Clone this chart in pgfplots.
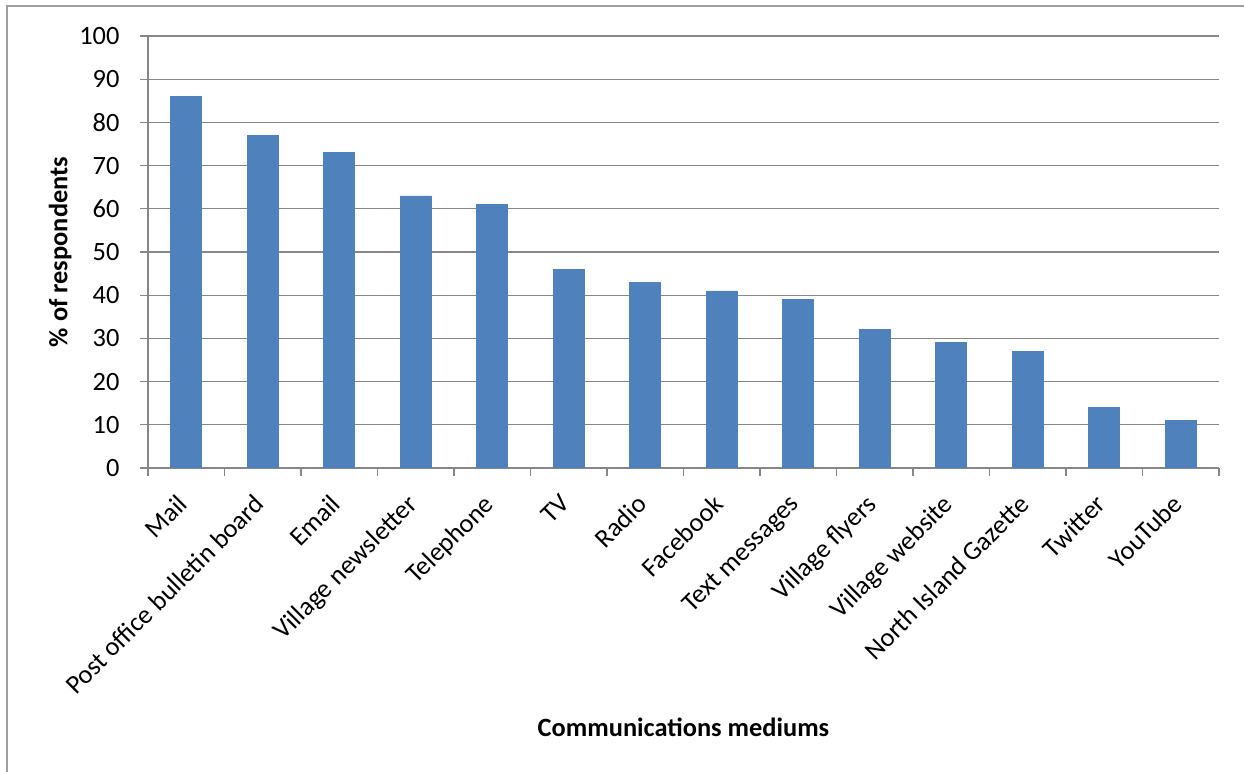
\documentclass[border=0pt]{standalone}
\usepackage{fontspec}
\setmainfont{Carlito}
\usepackage{pgfplots}
\pgfplotsset{compat=1.18}
\definecolor{barblue}{HTML}{4F81BD}
\definecolor{gridgray}{HTML}{868686}
\begin{document}
\begin{tikzpicture}[x=1bp,y=1bp]
\path[use as bounding box] (0,0) rectangle (1244,772);
\draw[gridgray!80, line width=1.2bp] (7,-20) -- (7,766) -- (1270,766);
\begin{axis}[
  at={(148bp,304bp)}, anchor=south west,
  scale only axis, width=1071bp, height=432bp,
  ybar, bar width=0.405,
  xmin=-0.5, xmax=13.5, ymin=0, ymax=100,
  ytick={0,10,...,100},
  xtick={0,...,13},
  xticklabels={Mail,Post office bulletin board,Email,Village newsletter,Telephone,TV,Radio,Facebook,Text messages,Village flyers,Village website,North Island Gazette,Twitter,YouTube},
  axis lines*=left,
  axis line style={gridgray, line width=1.2bp},
  ymajorgrids, grid style={gridgray, line width=1.2bp},
  tick align=outside,
  x tick style={draw=none},
  y tick style={gridgray, line width=1.2bp},
  major tick length=8bp,
  extra x ticks={-0.5,0.5,...,13.5},
  extra x tick labels={},
  extra x tick style={grid=none, x tick style={draw=gridgray, line width=1.2bp}, major tick length=8bp},
  /pgf/number format/assume math mode=true,
  tick label style={font=\fontsize{26.5}{30}\selectfont},
  yticklabel style={xshift=-17bp},
  xticklabel style={xshift=-10bp, yshift=-14bp, rotate=45, anchor=north east, inner sep=2bp},
  ylabel={\textbf{\% of respondents}},
  xlabel={\textbf{Communications mediums}},
  label style={font=\fontsize{26.5}{30}\selectfont},
  ylabel style={at={(axis description cs:-0.082,0.5)}, anchor=center},
  xlabel style={at={(axis description cs:0.5,-0.6)}, anchor=center},
  enlarge x limits=false,
]
\addplot[fill=barblue, draw=barblue, line width=0.6bp] coordinates {
(0,86) (1,77) (2,73) (3,63) (4,61) (5,46) (6,43) (7,41) (8,39) (9,32) (10,29) (11,27) (12,14) (13,11)
};
\end{axis}
\end{tikzpicture}
\end{document}
